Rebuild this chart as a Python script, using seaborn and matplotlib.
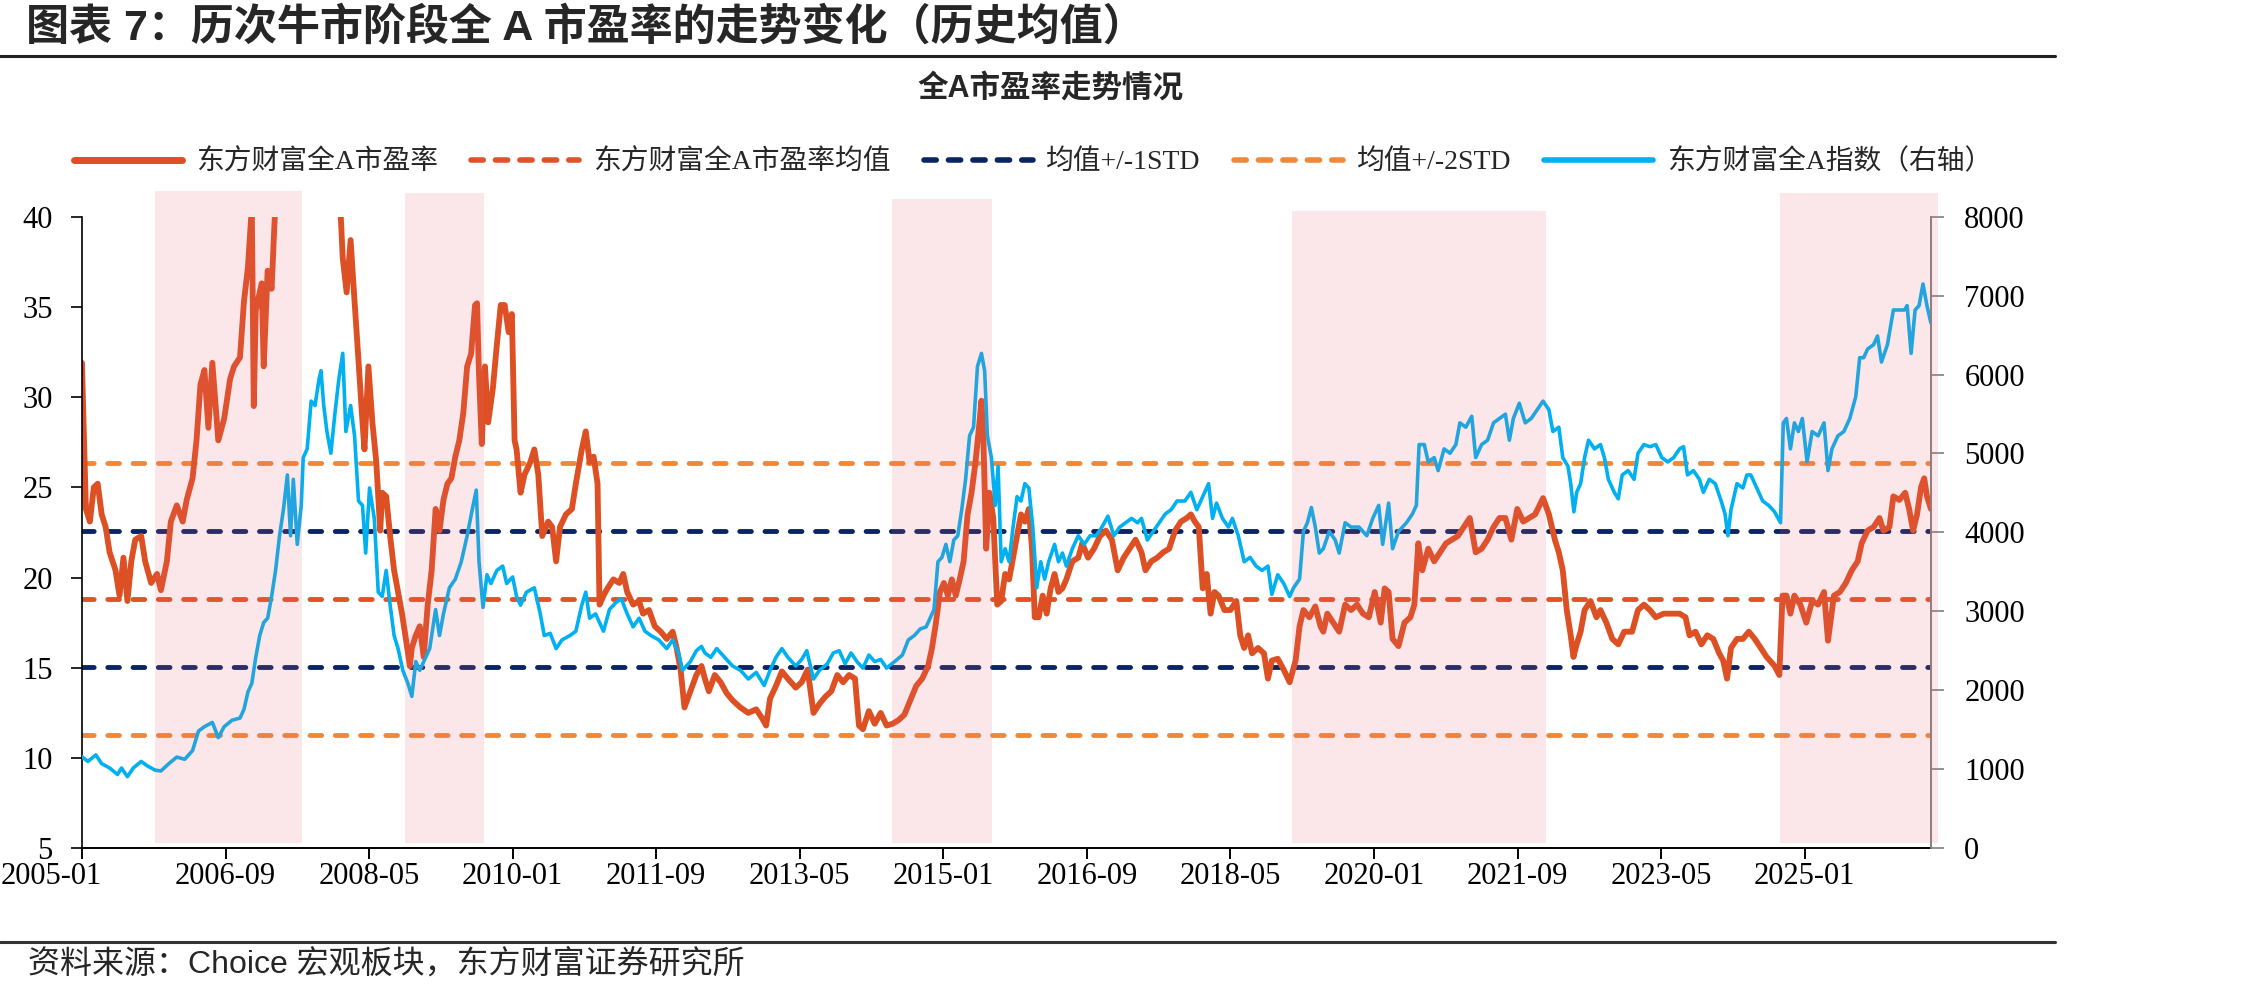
import numpy as np
import pandas as pd
import matplotlib
matplotlib.use('Agg')
import matplotlib.pyplot as plt
import matplotlib.transforms as mtransforms
from matplotlib.lines import Line2D
from matplotlib.font_manager import FontProperties
import seaborn as sns

# 东方财富全A市盈率, x 为小数年份
pe_year = [
    2005.000, 2005.046, 2005.092, 2005.138, 2005.183, 2005.229, 2005.275, 2005.321, 2005.390, 2005.436,
    2005.482, 2005.528, 2005.573, 2005.619, 2005.688, 2005.734, 2005.803, 2005.872, 2005.917, 2005.986,
    2006.032, 2006.101, 2006.170, 2006.216, 2006.284, 2006.330, 2006.376, 2006.422, 2006.468, 2006.514,
    2006.583, 2006.651, 2006.720, 2006.766, 2006.835, 2006.881, 2006.927, 2006.972, 2006.995, 2007.018,
    2007.087, 2007.110, 2007.156, 2007.202, 2007.248, 2007.300, 2007.400, 2007.500, 2007.600, 2007.700,
    2007.780, 2007.850, 2007.920, 2007.970, 2008.005, 2008.028, 2008.073, 2008.119, 2008.165, 2008.211,
    2008.257, 2008.280, 2008.326, 2008.372, 2008.417, 2008.463, 2008.486, 2008.532, 2008.578, 2008.624,
    2008.670, 2008.716, 2008.761, 2008.807, 2008.830, 2008.876, 2008.922, 2008.968, 2009.014, 2009.060,
    2009.106, 2009.151, 2009.197, 2009.243, 2009.289, 2009.335, 2009.381, 2009.427, 2009.472, 2009.518,
    2009.564, 2009.587, 2009.610, 2009.642, 2009.679, 2009.716, 2009.771, 2009.817, 2009.862, 2009.908,
    2009.954, 2009.991, 2010.023, 2010.046, 2010.092, 2010.138, 2010.206, 2010.252, 2010.298, 2010.344,
    2010.413, 2010.459, 2010.505, 2010.550, 2010.619, 2010.688, 2010.734, 2010.803, 2010.849, 2010.894,
    2010.940, 2010.986, 2011.009, 2011.055, 2011.101, 2011.170, 2011.239, 2011.284, 2011.330, 2011.399,
    2011.468, 2011.514, 2011.583, 2011.651, 2011.720, 2011.789, 2011.858, 2011.904, 2011.950, 2011.995,
    2012.064, 2012.133, 2012.193,
    2012.232, 2012.278, 2012.347, 2012.415, 2012.484, 2012.553, 2012.645, 2012.736, 2012.828, 2012.897,
    2012.943, 2012.989, 2013.058, 2013.126, 2013.195, 2013.287, 2013.356, 2013.425, 2013.493, 2013.562,
    2013.631, 2013.700, 2013.769, 2013.837, 2013.906, 2013.975, 2014.021, 2014.067, 2014.136, 2014.204,
    2014.273, 2014.342, 2014.411, 2014.480, 2014.548, 2014.617, 2014.686, 2014.755, 2014.824, 2014.869,
    2014.915, 2014.961, 2015.007, 2015.053, 2015.099, 2015.145, 2015.191, 2015.236, 2015.282, 2015.328,
    2015.374, 2015.420, 2015.443, 2015.466, 2015.498, 2015.535, 2015.580, 2015.626, 2015.672, 2015.718,
    2015.764, 2015.810, 2015.856, 2015.902, 2015.947, 2015.993, 2016.030, 2016.062, 2016.108, 2016.154,
    2016.200, 2016.246, 2016.292, 2016.337, 2016.383, 2016.429, 2016.498, 2016.567, 2016.613, 2016.681,
    2016.750, 2016.819, 2016.888, 2016.957, 2017.025, 2017.094, 2017.163, 2017.232, 2017.301, 2017.347,
    2017.415, 2017.484, 2017.553, 2017.622, 2017.691, 2017.759, 2017.828, 2017.874, 2017.920, 2017.966,
    2018.012, 2018.058, 2018.103, 2018.149, 2018.195, 2018.264, 2018.333, 2018.402, 2018.447, 2018.493,
    2018.539, 2018.585, 2018.654, 2018.723, 2018.769, 2018.814, 2018.883, 2018.952, 2019.021, 2019.090,
    2019.136, 2019.181, 2019.250, 2019.319, 2019.379,
    2019.412, 2019.458, 2019.527, 2019.596, 2019.665, 2019.734, 2019.803, 2019.872, 2019.940, 2020.009,
    2020.078, 2020.124, 2020.170, 2020.216, 2020.285, 2020.354, 2020.423, 2020.469, 2020.515, 2020.561,
    2020.630, 2020.699, 2020.768, 2020.837, 2020.906, 2020.974, 2021.043, 2021.112, 2021.181, 2021.250,
    2021.319, 2021.388, 2021.457, 2021.526, 2021.595, 2021.664, 2021.733, 2021.802, 2021.871, 2021.963,
    2022.031, 2022.100, 2022.146, 2022.192, 2022.238, 2022.284, 2022.316, 2022.353, 2022.399, 2022.445,
    2022.514, 2022.583, 2022.629, 2022.698, 2022.767, 2022.836, 2022.905, 2022.997, 2023.065, 2023.134,
    2023.203, 2023.272, 2023.364, 2023.456, 2023.548, 2023.617, 2023.663, 2023.732, 2023.801, 2023.870,
    2023.939, 2024.008, 2024.054, 2024.099, 2024.145, 2024.214, 2024.283, 2024.352, 2024.421, 2024.490,
    2024.559, 2024.651, 2024.706, 2024.743, 2024.789, 2024.835, 2024.881, 2024.950, 2025.019, 2025.087,
    2025.156, 2025.225, 2025.271, 2025.340, 2025.409, 2025.478, 2025.547, 2025.616, 2025.662, 2025.731,
    2025.800, 2025.869, 2025.915, 2025.984, 2026.030, 2026.099, 2026.167, 2026.213, 2026.259, 2026.305,
    2026.351, 2026.388, 2026.420, 2026.466,
]
pe_value = [
    31.9, 23.8, 23.1, 25.0, 25.2, 23.5, 22.8, 21.4, 20.4, 19.0,
    21.1, 18.7, 20.9, 22.1, 22.3, 20.9, 19.7, 20.2, 19.3, 20.9,
    23.1, 24.0, 23.1, 24.3, 25.5, 27.6, 30.7, 31.5, 28.3, 31.9,
    27.6, 28.8, 31.0, 31.7, 32.2, 35.3, 37.2, 40.5, 29.5, 34.8,
    36.3, 31.7, 37.0, 36.0, 41.0, 44.0, 48.0, 52.0, 55.0, 58.0,
    62.0, 56.0, 50.0, 45.0, 40.0, 37.7, 35.8, 38.7, 35.3, 32.0,
    28.6, 27.1, 31.7, 28.6, 26.4, 22.6, 24.7, 24.5, 22.3, 20.4,
    19.2, 18.0, 16.6, 15.1, 16.1, 16.8, 17.3, 15.6, 18.5, 20.4,
    23.8, 22.6, 24.3, 25.2, 25.5, 26.7, 27.6, 29.1, 31.7, 32.4,
    35.1, 35.2, 31.2, 27.4, 31.7, 28.6, 30.5, 32.9, 35.1, 35.1,
    33.6, 34.6, 27.6, 27.1, 24.7, 25.7, 26.4, 27.1, 25.7, 22.3,
    23.1, 22.8, 20.9, 22.8, 23.5, 23.8, 25.2, 27.1, 28.1, 26.4,
    26.7, 25.2, 18.5, 19.0, 19.4, 19.9, 19.7, 20.2, 19.2, 18.5,
    18.7, 18.0, 18.2, 17.3, 17.0, 16.6, 17.0, 16.1, 14.9, 12.8,
    13.7, 14.6, 15.1,
    14.4, 13.7, 14.6, 14.2, 13.6, 13.2, 12.8, 12.5, 12.7, 12.2,
    11.8, 13.3, 14.0, 14.8, 14.4, 13.9, 14.2, 14.9, 12.5, 13.0,
    13.4, 13.7, 14.6, 14.2, 14.6, 14.4, 11.8, 11.6, 12.6, 11.9,
    12.5, 11.8, 11.9, 12.1, 12.4, 13.2, 14.0, 14.4, 15.1, 16.1,
    17.5, 19.2, 19.7, 19.0, 19.9, 19.0, 19.9, 20.9, 23.5, 24.7,
    26.4, 28.6, 29.8, 27.6, 21.6, 24.7, 23.3, 18.5, 18.7, 20.2,
    19.9, 21.1, 22.3, 23.5, 23.1, 23.8, 21.6, 17.8, 17.8, 19.0,
    18.0, 19.4, 20.2, 19.2, 19.4, 19.9, 20.9, 21.1, 21.9, 21.1,
    21.6, 22.3, 22.6, 22.1, 20.4, 21.1, 21.6, 22.1, 21.4, 20.4,
    20.9, 21.1, 21.4, 21.6, 22.6, 23.1, 23.3, 23.5, 23.1, 22.8,
    19.4, 20.2, 18.0, 19.2, 19.0, 18.2, 18.2, 18.7, 16.8, 16.1,
    16.8, 15.8, 16.1, 15.8, 14.4, 15.4, 15.5, 14.9, 14.2, 15.4,
    17.3, 18.2, 17.8, 18.4, 17.3,
    17.0, 18.0, 17.5, 17.0, 18.5, 18.2, 18.5, 18.0, 17.8, 19.2,
    17.5, 19.4, 19.2, 16.6, 16.2, 17.5, 17.8, 18.5, 21.9, 20.4,
    21.6, 20.9, 21.4, 21.9, 22.1, 22.3, 22.8, 23.3, 21.4, 21.6,
    22.1, 22.8, 23.3, 23.3, 22.1, 23.8, 23.1, 23.3, 23.5, 24.4,
    23.5, 22.1, 21.4, 20.4, 18.2, 16.8, 15.6, 16.3, 17.0, 18.2,
    18.7, 17.8, 18.2, 17.5, 16.6, 16.3, 17.0, 17.0, 18.2, 18.5,
    18.2, 17.8, 18.0, 18.0, 18.0, 17.8, 16.8, 17.0, 16.3, 16.8,
    16.6, 15.8, 15.4, 14.4, 16.1, 16.6, 16.6, 17.0, 16.6, 16.1,
    15.6, 15.1, 14.6, 19.0, 19.0, 18.0, 19.0, 18.5, 17.5, 18.7,
    18.5, 19.2, 16.5, 19.0, 19.2, 19.7, 20.4, 20.9, 21.9, 22.6,
    22.8, 23.3, 22.6, 22.8, 24.5, 24.3, 24.7, 23.8, 22.6, 23.5,
    25.0, 25.5, 24.5, 23.8,
]

# 东方财富全A指数(右轴)
idx_year = [
    2005.000, 2005.069, 2005.161, 2005.229, 2005.321, 2005.413, 2005.459, 2005.528, 2005.596, 2005.688,
    2005.757, 2005.849, 2005.917, 2006.009, 2006.101, 2006.193, 2006.284, 2006.353, 2006.422, 2006.514,
    2006.583, 2006.651, 2006.743, 2006.835, 2006.881, 2006.927, 2006.972, 2007.018, 2007.064, 2007.110,
    2007.156, 2007.202, 2007.248, 2007.294, 2007.339, 2007.385, 2007.422, 2007.454, 2007.500, 2007.546,
    2007.569, 2007.615, 2007.661, 2007.706, 2007.752, 2007.775, 2007.807, 2007.844, 2007.890, 2007.936,
    2007.982, 2008.028, 2008.064, 2008.119, 2008.165, 2008.211, 2008.257, 2008.294, 2008.339, 2008.394,
    2008.440, 2008.486, 2008.532, 2008.578, 2008.624, 2008.670, 2008.725, 2008.784, 2008.830, 2008.876,
    2008.922, 2008.991, 2009.037, 2009.106, 2009.151, 2009.197, 2009.266, 2009.335, 2009.404, 2009.472,
    2009.541, 2009.578, 2009.610, 2009.656, 2009.702, 2009.748, 2009.817, 2009.885, 2009.931, 2010.000,
    2010.046, 2010.092, 2010.161, 2010.252, 2010.321, 2010.367, 2010.436, 2010.505, 2010.573, 2010.665,
    2010.734, 2010.803, 2010.849, 2010.894, 2010.963, 2011.009, 2011.055, 2011.124, 2011.193, 2011.261,
    2011.330, 2011.399, 2011.468, 2011.537, 2011.606, 2011.697, 2011.789, 2011.858, 2011.927, 2011.972,
    2012.064, 2012.133, 2012.193,
    2012.232, 2012.301, 2012.369, 2012.461, 2012.553, 2012.645, 2012.736, 2012.828, 2012.920, 2012.989,
    2013.058, 2013.126, 2013.195, 2013.287, 2013.356, 2013.415, 2013.493, 2013.562, 2013.654, 2013.723,
    2013.792, 2013.860, 2013.929, 2013.998, 2014.067, 2014.136, 2014.204, 2014.273, 2014.342, 2014.434,
    2014.525, 2014.594, 2014.663, 2014.732, 2014.801, 2014.847, 2014.892, 2014.938, 2014.984, 2015.030,
    2015.076, 2015.122, 2015.168, 2015.214, 2015.259, 2015.305, 2015.351, 2015.397, 2015.443, 2015.480,
    2015.512, 2015.558, 2015.603, 2015.636, 2015.672, 2015.718, 2015.764, 2015.810, 2015.856, 2015.902,
    2015.947, 2015.993, 2016.039, 2016.085, 2016.131, 2016.177, 2016.223, 2016.292, 2016.337, 2016.383,
    2016.429, 2016.498, 2016.567, 2016.636, 2016.704, 2016.773, 2016.842, 2016.911, 2016.980, 2017.048,
    2017.117, 2017.186, 2017.255, 2017.301, 2017.369, 2017.438, 2017.507, 2017.576, 2017.645, 2017.714,
    2017.805, 2017.874, 2017.943, 2018.012, 2018.080, 2018.126, 2018.172, 2018.241, 2018.310, 2018.356,
    2018.425, 2018.493, 2018.562, 2018.631, 2018.700, 2018.769, 2018.814, 2018.883, 2018.952, 2019.021,
    2019.067, 2019.136, 2019.181, 2019.227, 2019.273, 2019.319, 2019.365,
    2019.412, 2019.481, 2019.550, 2019.596, 2019.665, 2019.734, 2019.826, 2019.917, 2019.986, 2020.055,
    2020.101, 2020.170, 2020.216, 2020.285, 2020.377, 2020.446, 2020.492, 2020.524, 2020.584, 2020.630,
    2020.699, 2020.745, 2020.814, 2020.883, 2020.951, 2020.997, 2021.066, 2021.135, 2021.181, 2021.250,
    2021.319, 2021.388, 2021.457, 2021.526, 2021.572, 2021.618, 2021.687, 2021.756, 2021.825, 2021.894,
    2021.963, 2022.031, 2022.077, 2022.146, 2022.192, 2022.252, 2022.284, 2022.321, 2022.353, 2022.399,
    2022.445, 2022.491, 2022.560, 2022.629, 2022.675, 2022.721, 2022.790, 2022.836, 2022.882, 2022.951,
    2023.019, 2023.065, 2023.134, 2023.203, 2023.272, 2023.341, 2023.410, 2023.479, 2023.548, 2023.594,
    2023.640, 2023.709, 2023.778, 2023.824, 2023.893, 2023.962, 2024.031, 2024.076, 2024.109, 2024.145,
    2024.214, 2024.283, 2024.329, 2024.375, 2024.444, 2024.513, 2024.582, 2024.651, 2024.720, 2024.752,
    2024.789, 2024.835, 2024.881, 2024.927, 2024.973, 2025.028, 2025.087, 2025.156, 2025.225, 2025.271,
    2025.317, 2025.386, 2025.455, 2025.524, 2025.593, 2025.639, 2025.685, 2025.731, 2025.800, 2025.846,
    2025.892, 2025.961, 2026.030, 2026.099, 2026.158, 2026.190, 2026.236, 2026.282, 2026.328, 2026.374,
    2026.420, 2026.466,
]
idx_value = [
    1160, 1100, 1182, 1072, 1017, 935, 1017, 907, 1017, 1100,
    1045, 990, 979, 1072, 1155, 1127, 1237, 1484, 1540, 1594,
    1402, 1540, 1622, 1649, 1759, 1979, 2089, 2419, 2694, 2859,
    2914, 3189, 3519, 3958, 4288, 4728, 3958, 4673, 3849, 4343,
    4948, 5058, 5663, 5608, 5938, 6048, 5608, 5278, 5003, 5498,
    5938, 6268, 5278, 5608, 5223, 4398, 4343, 3739, 4563, 4178,
    3244, 3189, 3519, 3079, 2694, 2529, 2254, 2089, 1924, 2364,
    2254, 2419, 2529, 3024, 2694, 2969, 3299, 3409, 3629, 3958,
    4343, 4536, 3629, 3051, 3464, 3354, 3519, 3574, 3354, 3436,
    3189, 3079, 3244, 3299, 2969, 2694, 2722, 2529, 2639, 2694,
    2749, 3079, 3244, 2914, 2969, 2859, 2749, 3024, 3106, 3161,
    2969, 2804, 2914, 2749, 2694, 2639, 2529, 2639, 2474, 2254,
    2364, 2502, 2557,
    2474, 2419, 2529, 2419, 2309, 2254, 2144, 2227, 2062, 2254,
    2419, 2529, 2419, 2309, 2392, 2502, 2144, 2254, 2337, 2474,
    2502, 2337, 2474, 2364, 2282, 2447, 2364, 2392, 2282, 2364,
    2447, 2639, 2694, 2777, 2804, 2914, 3024, 3629, 3684, 3849,
    3629, 3904, 3958, 4288, 4673, 5223, 5333, 6103, 6268, 6048,
    5223, 4948, 4343, 4838, 3629, 3794, 3629, 4068, 4453, 4398,
    4618, 4563, 4068, 3299, 3629, 3409, 3629, 3849, 3629, 3739,
    3574, 3794, 3958, 3849, 3958, 3958, 4068, 4206, 3958, 4068,
    4123, 4178, 4123, 4178, 3904, 4013, 4123, 4233, 4288, 4398,
    4398, 4508, 4288, 4453, 4618, 4178, 4371, 4178, 4068, 4178,
    3958, 3629, 3684, 3574, 3519, 3574, 3216, 3464, 3354, 3189,
    3299, 3409, 4013, 4123, 4316, 4068, 3739,
    3794, 4013, 3904, 3739, 4123, 4068, 4068, 3958, 4178, 4343,
    3849, 4371, 3794, 4013, 4123, 4233, 4343, 5113, 5113, 4893,
    4948, 4783, 5058, 5003, 5113, 5388, 5333, 5471, 4948, 5113,
    5168, 5388, 5443, 5498, 5168, 5443, 5636, 5388, 5443, 5553,
    5663, 5553, 5278, 5333, 4948, 4838, 4618, 4261, 4508, 4618,
    4948, 5168, 5058, 5113, 4948, 4673, 4508, 4426, 4728, 4783,
    4673, 5003, 5113, 5086, 5113, 4948, 4893, 4948, 5058, 5086,
    4728, 4783, 4673, 4508, 4673, 4618, 4398, 4233, 3958, 4288,
    4618, 4563, 4728, 4728, 4563, 4398, 4343, 4261, 4123, 5388,
    5443, 5058, 5388, 5278, 5443, 4893, 5278, 5223, 5388, 4783,
    5058, 5223, 5278, 5443, 5718, 6213, 6213, 6323, 6378, 6488,
    6158, 6378, 6817, 6817, 6817, 6872, 6268, 6817, 6872, 7147,
    6872, 6652,
]

pe_mean = 18.81
pe_std = 3.76

# 牛市阶段(阴影)
bull_start = [2005.849, 2008.748, 2014.402, 2019.044, 2024.711]
bull_end = [2007.560, 2009.670, 2015.562, 2021.995, 2026.544]
bull_top = [41.44, 41.32, 40.96, 40.29, 41.32]

xtick_labels = ['2005-01', '2006-09', '2008-05', '2010-01', '2011-09', '2013-05', '2015-01',
                '2016-09', '2018-05', '2020-01', '2021-09', '2023-05', '2025-01']
xtick_pos = [int(s[:4]) + (int(s[5:]) - 1) / 12 for s in xtick_labels]

c_pe = '#DD5024'
c_mean = '#E0522A'
c_1std = '#0B2462'
c_2std = '#F0883A'
c_idx = '#00B0F0'

sns.set_theme(style='ticks')
plt.rcParams['font.family'] = ['Liberation Serif', 'Noto Sans CJK SC']
plt.rcParams['axes.unicode_minus'] = False

fig = plt.figure(figsize=(22.45, 9.94), dpi=100)
ax = fig.add_axes([0.0365, 0.1466, 0.8236, 0.6355])
ax2 = ax.twinx()

dash_kw = dict(lw=3.5, dashes=(2.4, 2.8), dash_capstyle='round')
ax.axhline(pe_mean + 2 * pe_std, color=c_2std, **dash_kw)
ax.axhline(pe_mean - 2 * pe_std, color=c_2std, **dash_kw)
ax.axhline(pe_mean + pe_std, color=c_1std, **dash_kw)
ax.axhline(pe_mean - pe_std, color=c_1std, **dash_kw)
ax.axhline(pe_mean, color=c_mean, **dash_kw)

sns.lineplot(x=pe_year, y=pe_value, ax=ax, color=c_pe, linewidth=4.2,
             estimator=None, sort=False, legend=False)
sns.lineplot(x=idx_year, y=idx_value, ax=ax2, color=c_idx, linewidth=2.6,
             estimator=None, sort=False, legend=False)

for s, e, t in zip(bull_start, bull_end, bull_top):
    ax2.axvspan(s, e, ymin=0.008, ymax=(t - 5) / 35, color='#E96478', alpha=0.15,
                lw=0, zorder=5, clip_on=False)

ax.set_xlim(2005.0, pe_year[-1])
ax.set_ylim(5, 40)
ax2.set_ylim(0, 8000)
ax.set_yticks(range(5, 41, 5))
ax2.set_yticks(range(0, 8001, 1000))
ax.set_xticks(xtick_pos, xtick_labels)
ax.set_xlabel('')
ax.set_ylabel('')
ax2.set_ylabel('')

for a in (ax, ax2):
    a.spines['top'].set_visible(False)
ax.spines['right'].set_visible(False)
ax2.spines['left'].set_visible(False)
ax2.spines['bottom'].set_visible(False)
ax.spines['left'].set_color('black')
ax.spines['bottom'].set_color('black')
ax.spines['left'].set_linewidth(1.2)
ax.spines['bottom'].set_linewidth(1.4)
ax2.spines['right'].set_color('#808080')
ax2.spines['right'].set_linewidth(1.4)

ax.tick_params(axis='y', direction='out', length=8, width=1.2, color='black',
               labelsize=22, pad=13, labelcolor='black')
ax.tick_params(axis='x', direction='out', length=8, width=1.4, color='black',
               labelsize=22, pad=2, labelcolor='black')
ax2.tick_params(axis='y', direction='out', length=9, width=1.2, color='#808080',
                labelsize=22, pad=15, labelcolor='black')

first = ax.get_xticklabels()[0]
first.set_ha('left')
first.set_transform(first.get_transform() +
                    mtransforms.ScaledTranslation(-0.81, 0, fig.dpi_scale_trans))

# 图例
handles = [
    Line2D([], [], color=c_pe, lw=5),
    Line2D([], [], color=c_mean, lw=4, dashes=(2.2, 2.2), dash_capstyle='round'),
    Line2D([], [], color=c_1std, lw=4, dashes=(2.2, 2.2), dash_capstyle='round'),
    Line2D([], [], color=c_2std, lw=4, dashes=(2.2, 2.2), dash_capstyle='round'),
    Line2D([], [], color=c_idx, lw=4),
]
labels = ['东方财富全A市盈率', '东方财富全A市盈率均值', '均值+/-1STD', '均值+/-2STD',
          '东方财富全A指数（右轴）']
fig.legend(handles, labels, loc='center', bbox_to_anchor=(0.46, 0.837), ncol=5,
           frameon=False, handlelength=3.9, handletextpad=0.5, columnspacing=1.2,
           prop=FontProperties(family=['Liberation Serif', 'Noto Sans CJK SC'], size=20))

# 标题与注释
fig.text(0.0116, 0.972, '图表 7：历次牛市阶段全 A 市盈率的走势变化（历史均值）',
         fontsize=31, fontweight='bold', va='center', ha='left',
         family=['Liberation Sans', 'Noto Sans CJK SC'])
fig.add_artist(Line2D([0, 0.9154], [0.9437, 0.9437], color='#222222', lw=2.2,
                      transform=fig.transFigure))
fig.text(0.4677, 0.9105, '全A市盈率走势情况', fontsize=22, fontweight='bold',
         va='center', ha='center', family=['Liberation Sans', 'Noto Sans CJK SC'])
fig.add_artist(Line2D([0, 0.9154], [0.0523, 0.0523], color='#333333', lw=2.2,
                      transform=fig.transFigure))
fig.text(0.0125, 0.029, '资料来源：Choice 宏观板块，东方财富证券研究所', fontsize=23,
         va='center', ha='left', family=['Liberation Sans', 'Noto Sans CJK SC'])

fig.savefig('out.png', dpi=100)
